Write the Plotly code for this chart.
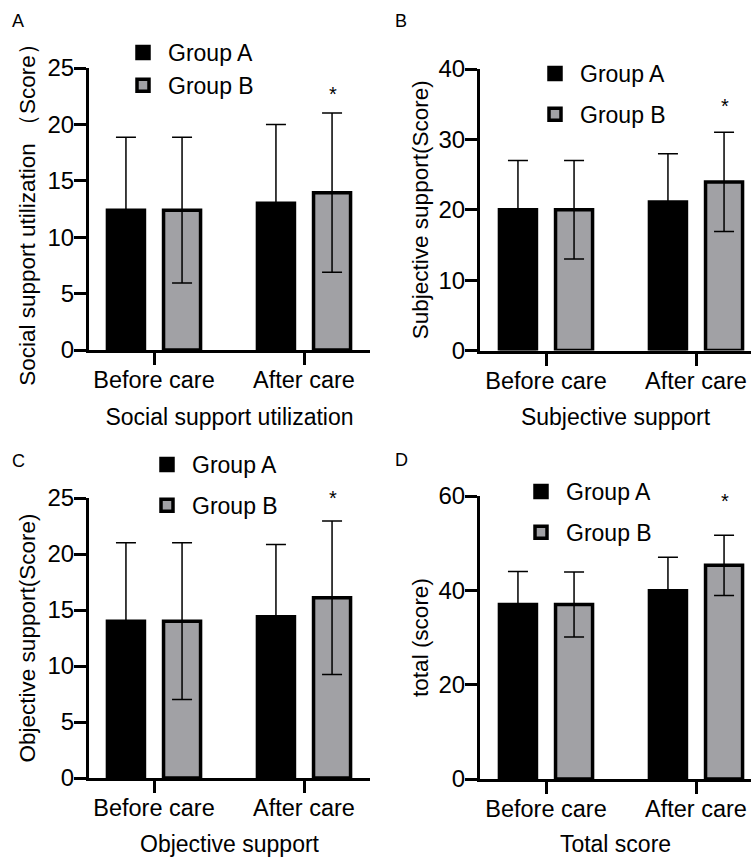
import plotly.graph_objects as go

# ---------------- data ----------------
categories = ["Before care", "After care"]
groups = ["Group A", "Group B"]

social_a = [12.4, 13.0]
social_a_sd = [6.45, 7.0]
social_b = [12.4, 13.95]
social_b_sd = [6.45, 7.05]

subj_a = [20.0, 21.1]
subj_a_sd = [7.0, 6.85]
subj_b = [20.0, 23.95]
subj_b_sd = [7.0, 7.05]

obj_a = [14.0, 14.4]
obj_a_sd = [7.0, 6.45]
obj_b = [14.0, 16.1]
obj_b_sd = [7.0, 6.85]

total_a = [37.0, 39.9]
total_a_sd = [7.0, 7.1]
total_b = [37.0, 45.3]
total_b_sd = [6.9, 6.4]

star_y = [22.7, 34.7, 25.0, 58.9]
y_max = [25, 40, 25, 60]
y_dtick = [5, 10, 5, 20]
panel_letters = ["A", "B", "C", "D"]
x_titles = ["Social support utilization", "Subjective support", "Objective support", "Total score"]
y_titles = ["Social support utilization （Score）", "Subjective support(Score)",
            "Objective support(Score)", "total (score)"]

series_a = [(social_a, social_a_sd), (subj_a, subj_a_sd), (obj_a, obj_a_sd), (total_a, total_a_sd)]
series_b = [(social_b, social_b_sd), (subj_b, subj_b_sd), (obj_b, obj_b_sd), (total_b, total_b_sd)]

# ---------------- style / layout ----------------
W, H = 751, 857
FONT = "Liberation Sans, Arial, sans-serif"
GRAY = "#a1a1a5"
BLACK = "#000000"

# pixel boxes of plot areas: (left, right, top, bottom)
boxes = [(89, 370, 68, 350), (480, 751, 69, 350.5), (89, 370, 498, 778), (480, 751, 496, 779)]
cat_px = [(154, 304), (546, 696), (154, 304), (546, 696)]
legend_pos = [(118, 31, 0), (530, 52, 8), (142, 443, 8), (516, 470, 8)]
letter_pos = [(18, 21), (401, 21), (18, 461), (401, 460)]
y_standoff = [6, 4, 6, 4]

fig = go.Figure()
layout_axes = {}
annotations = []
legends = {}

for i in range(4):
    xa = "x" if i == 0 else f"x{i+1}"
    ya = "y" if i == 0 else f"y{i+1}"
    leg = "legend" if i == 0 else f"legend{i+1}"
    (ma, sa), (mb, sb) = series_a[i], series_b[i]
    fig.add_trace(go.Bar(
        x=categories, y=ma, name=groups[0], xaxis=xa, yaxis=ya, legend=leg,
        legendgroup=f"a{i}",
        marker=dict(color=BLACK, line=dict(color=BLACK, width=3.5)),
        error_y=dict(type="data", array=sa, visible=True, color=BLACK, thickness=1.5, width=10),
    ))
    fig.add_trace(go.Bar(
        x=categories, y=mb, name=groups[1], xaxis=xa, yaxis=ya, legend=leg,
        legendgroup=f"b{i}",
        marker=dict(color=GRAY, line=dict(color=BLACK, width=3.5)),
        error_y=dict(type="data", array=sb, visible=True, color=BLACK, thickness=1.5, width=10),
    ))

    l, r, t, b = boxes[i]
    c0, c1 = cat_px[i]
    sp = c1 - c0
    xr = [(l - c0) / sp, (r - c0) / sp]
    xkey = "xaxis" if i == 0 else f"xaxis{i+1}"
    ykey = "yaxis" if i == 0 else f"yaxis{i+1}"
    layout_axes[xkey] = dict(
        domain=[l / W, r / W], anchor=ya, type="category", range=xr,
        showline=True, linewidth=3, linecolor=BLACK,
        ticks="outside", ticklen=12, tickwidth=2.5, tickcolor=BLACK,
        ticklabelstandoff=-5,
        tickfont=dict(family=FONT, size=23.5, color=BLACK),
        title=dict(text=x_titles[i], font=dict(family=FONT, size=23, color=BLACK), standoff=17),
        showgrid=False, zeroline=False, automargin=False, fixedrange=True,
    )
    layout_axes[ykey] = dict(
        domain=[1 - b / H, 1 - t / H], anchor=xa, range=[0, y_max[i]], dtick=y_dtick[i],
        showline=True, linewidth=3, linecolor=BLACK,
        ticks="outside", ticklen=12, tickwidth=2.5, tickcolor=BLACK,
        ticklabelstandoff=-5,
        tickfont=dict(family=FONT, size=24, color=BLACK),
        title=dict(text=y_titles[i], font=dict(family=FONT, size=22.5, color=BLACK),
                   standoff=y_standoff[i]),
        showgrid=False, zeroline=False, automargin=False, fixedrange=True,
    )

    # significance star above Group B, After care
    off = 0.19
    annotations.append(dict(
        x=1 + off, y=star_y[i], xref=xa, yref=ya, text="*", showarrow=False,
        font=dict(family=FONT, size=20, color=BLACK),
    ))
    # panel letter
    lx, ly = letter_pos[i]
    annotations.append(dict(
        x=lx / W, y=1 - ly / H, xref="paper", yref="paper", text=panel_letters[i],
        showarrow=False, font=dict(family=FONT, size=18, color=BLACK),
        xanchor="center", yanchor="middle",
    ))

    gx, gy, gap = legend_pos[i]
    legends[leg] = dict(
        x=gx / W, y=1 - gy / H, xanchor="left", yanchor="top",
        bgcolor="rgba(0,0,0,0)", font=dict(family=FONT, size=23, color=BLACK),
        tracegroupgap=gap, itemwidth=40,
    )

fig.update_layout(
    width=W, height=H, margin=dict(l=0, r=0, t=0, b=0),
    paper_bgcolor="white", plot_bgcolor="white",
    barmode="group", bargap=0.252, bargroupgap=0.34,
    showlegend=True, annotations=annotations,
    font=dict(family=FONT, size=22, color=BLACK),
    **layout_axes, **legends,
)

fig.write_html("out.html", config={"displayModeBar": False},
               post_script="document.body.style.margin='0px';document.body.style.overflow='hidden';")
